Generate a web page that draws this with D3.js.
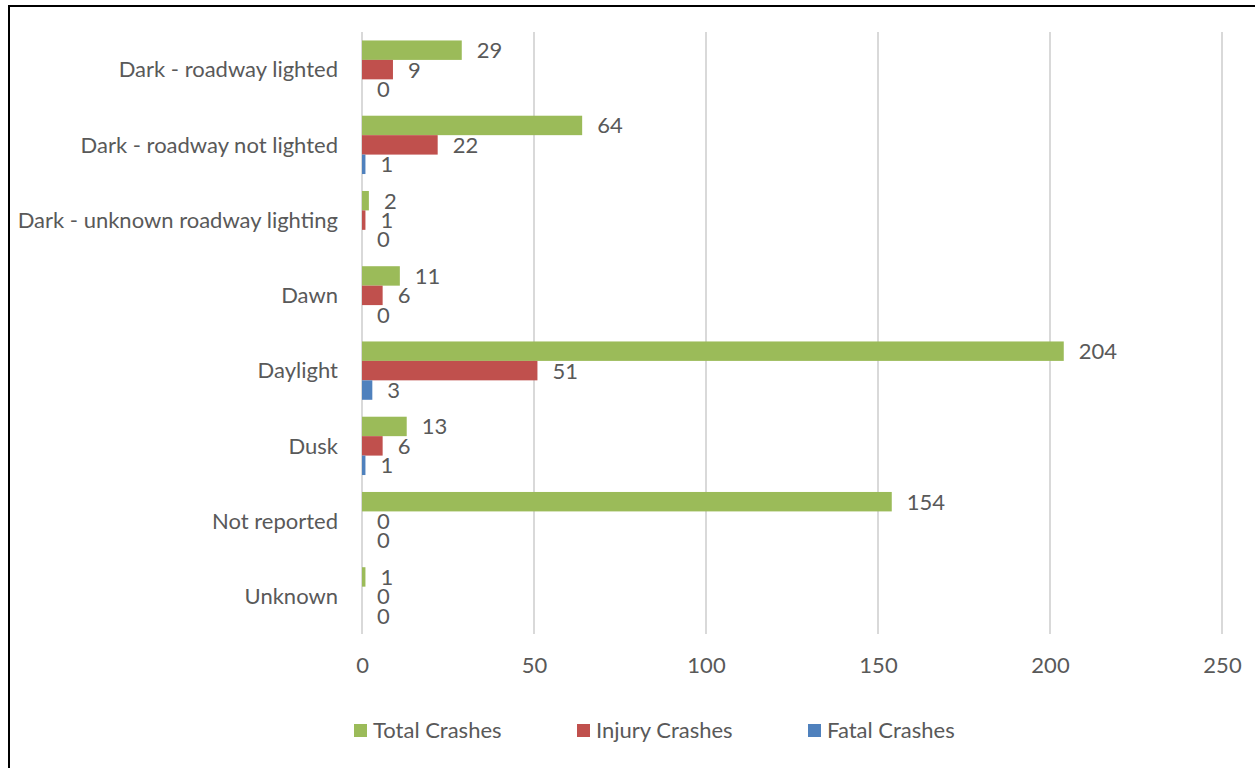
<!DOCTYPE html>
<html>
<head>
<meta charset="utf-8">
<script src="https://cdn.jsdelivr.net/npm/d3@7"></script>
<style>
  html, body { margin: 0; padding: 0; background: #fff; }
  svg { display: block; }
  text { font-family: Lato, "Noto Sans", sans-serif; fill: #595959; }
</style>
</head>
<body>
<svg id="chart" width="1255" height="768"></svg>
<script>
const categories = ["Dark - roadway lighted", "Dark - roadway not lighted", "Dark - unknown roadway lighting", "Dawn", "Daylight", "Dusk", "Not reported", "Unknown"];
const seriesNames = ["Total Crashes", "Injury Crashes", "Fatal Crashes"];
const totalCrashes = [29, 64, 2, 11, 204, 13, 154, 1];
const injuryCrashes = [9, 22, 1, 6, 51, 6, 0, 0];
const fatalCrashes = [0, 1, 0, 0, 3, 1, 0, 0];
const xTicks = [0, 50, 100, 150, 200, 250];
const colors = ["#9BBB59", "#C0504D", "#4F81BD"];

const seriesValues = [totalCrashes, injuryCrashes, fatalCrashes];
const svg = d3.select("#chart");
const FS = "22px";

// frame
svg.append("rect").attr("x", 9).attr("y", 6).attr("width", 1260).attr("height", 780)
  .attr("fill", "none").attr("stroke", "#000").attr("stroke-width", 2);

const plotL = 362, plotR = 1222, plotT = 32, plotB = 634;
const x = d3.scaleLinear().domain([0, 250]).range([plotL, plotR]);
const y = d3.scaleBand().domain(categories).range([plotT, plotB]).paddingInner(0.225).paddingOuter(0.1125);
const ys = d3.scaleBand().domain(seriesNames).range([0, y.bandwidth()]);

// grid
svg.append("g").selectAll("line").data(xTicks).join("line")
  .attr("x1", d => x(d)).attr("x2", d => x(d))
  .attr("y1", plotT).attr("y2", plotB)
  .attr("stroke", "#D9D9D9").attr("stroke-width", 2);

// axis tick labels
const xAxis = d3.axisBottom(x).tickValues(xTicks).tickSize(0).tickPadding(0);
const gx = svg.append("g").attr("transform", `translate(0,${plotB})`).call(xAxis);
gx.select(".domain").remove();
gx.selectAll("text").attr("y", 39).attr("dy", 0).style("font-size", FS)
  .style("font-family", "Lato, 'Noto Sans', sans-serif").attr("fill", "#595959");

// category labels
const yAxis = d3.axisLeft(y).tickSize(0).tickPadding(0);
const gy = svg.append("g").attr("transform", `translate(338,0)`).call(yAxis);
gy.select(".domain").remove();
gy.selectAll("text").attr("dy", "0.35em").style("font-size", FS)
  .style("font-family", "Lato, 'Noto Sans', sans-serif").attr("fill", "#595959");

// bars
const data = [];
categories.forEach((c, i) => seriesNames.forEach((s, j) => data.push({c, s, j, v: seriesValues[j][i]})));
svg.append("g").selectAll("rect").data(data).join("rect")
  .attr("x", x(0))
  .attr("y", d => y(d.c) + ys(d.s))
  .attr("width", d => x(d.v) - x(0))
  .attr("height", ys.bandwidth())
  .attr("fill", d => colors[d.j]);

// value labels
svg.append("g").selectAll("text").data(data).join("text")
  .attr("x", d => x(d.v) + 15)
  .attr("y", d => y(d.c) + ys(d.s) + ys.bandwidth() / 2)
  .attr("dy", "0.36em")
  .style("font-size", FS)
  .text(d => d.v);

// legend
const legendX = [354, 577, 808];
const lg = svg.append("g").selectAll("g").data(seriesNames).join("g")
  .attr("transform", (d, i) => `translate(${legendX[i]},730)`);
lg.append("rect").attr("x", 0).attr("y", -6).attr("width", 13).attr("height", 13).attr("fill", (d, i) => colors[i]);
lg.append("text").attr("x", 19).attr("dy", "0.36em").style("font-size", FS).text(d => d);
</script>
</body>
</html>
